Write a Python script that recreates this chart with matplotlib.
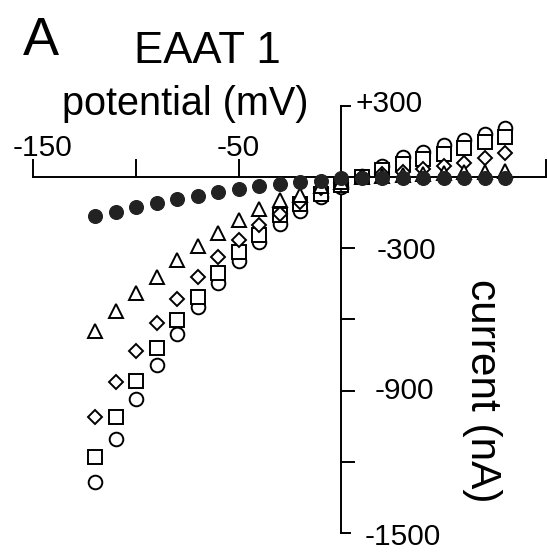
import matplotlib
matplotlib.use("Agg")
import matplotlib.pyplot as plt
import numpy as np

plt.rcParams['font.family'] = ['Liberation Sans', 'DejaVu Sans']

# membrane potential steps (mV)
voltage = np.arange(-120, 81, 10)

# currents (nA) at each step, one list per condition
filled_circle = [-165, -148, -128, -110, -95, -80, -64, -53, -39, -29, -22, -16, -3,
                 -3, -4, -4, -4, -4, -4, -4, -4]
triangle = [-650, -567, -491, -424, -351, -291, -238, -184, -137, -97, -76, -40, -20,
            0, 5, 8, 12, 15, 20, 22, 24]
diamond = [-1010, -864, -733, -617, -513, -422, -338, -265, -202, -156, -105, -48, -28,
           0, 12, 22, 34, 45, 58, 78, 100]
square = [-1178, -1010, -860, -722, -605, -505, -404, -318, -247, -160, -114, -72, -33,
          -2, 28, 55, 76, 97, 121, 146, 167]
circle = [-1285, -1102, -937, -794, -661, -547, -446, -355, -275, -198, -142, -86, -45,
          2, 47, 83, 106, 132, 156, 181, 205]

x_ticks = [-150, -100, -50, 50, 100]
x_labels = {-150: "-150", -50: "-50"}
y_ticks = [-1500, -1200, -900, -600, -300, 300]
y_labels = {300: "+300", -300: "-300", -900: "-900", -1500: "-1500"}

fig = plt.figure(figsize=(5.47, 5.6), dpi=100)
ax = fig.add_axes([0, 0, 1, 1])
ax.set_xlim(-166.3, 100.3)
ax.set_ylim(-1613.5, 744.4)
ax.axis('off')

# axes crossing at the origin
lw = 1.4
ax.plot([-150, 100], [0, 0], color='black', lw=lw, clip_on=False)
ax.plot([0, 0], [-1500, 300], color='black', lw=lw, clip_on=False)
for t in x_ticks:
    ax.plot([t, t], [0, 72], color='black', lw=lw, clip_on=False)
for t in y_ticks:
    tick_len = 4.5 if t in (-1500, 300) else 6.2
    ax.plot([0, tick_len], [t, t], color='black', lw=lw, clip_on=False)

# tick labels
tick_fs = 21.5
for t, s in x_labels.items():
    ax.text(t + 4.5 if t == -150 else t, 123, s, fontsize=tick_fs,
            ha='center', va='center')
y_label_x = {300: 23.3, -300: 31.6, -900: 30.6, -1500: 30.0}
y_label_y = {300: 305, -300: -312, -900: -900, -1500: -1518}
for t, s in y_labels.items():
    ax.text(y_label_x[t], y_label_y[t], s, fontsize=tick_fs,
            ha='center', va='center')

# data series
mew = 1.4
ax.plot(voltage, circle, linestyle='none', marker='o', ms=9.8,
        mfc='white', mec='black', mew=mew, zorder=3)
ax.plot(voltage, square, linestyle='none', marker='s', ms=9.4,
        mfc='white', mec='black', mew=mew, zorder=4)
ax.plot(voltage, diamond, linestyle='none', marker='D', ms=7.0,
        mfc='white', mec='black', mew=mew, zorder=5)
ax.plot(voltage, triangle, linestyle='none', marker='^', ms=10.4,
        mfc='white', mec='black', mew=mew, zorder=6)
ax.plot(voltage, filled_circle, linestyle='none', marker='o', ms=10.0,
        mfc='#222222', mec='#222222', mew=0.8, zorder=7)

# panel letter, title and axis names
W, H = 547.0, 560.0
fig.text(41 / W, 1 - 55 / H, "A", fontsize=39, ha='center', va='baseline')
fig.text(207.5 / W, 1 - 63 / H, "EAAT 1", fontsize=31.5, ha='center', va='baseline')
fig.text(185 / W, 1 - 115 / H, "potential (mV)", fontsize=28.5,
         ha='center', va='baseline')
fig.text(482 / W, 1 - 391 / H, "current (nA)", fontsize=30.5, rotation=270,
         ha='center', va='center')

fig.savefig("out.png", dpi=100, facecolor='white')
